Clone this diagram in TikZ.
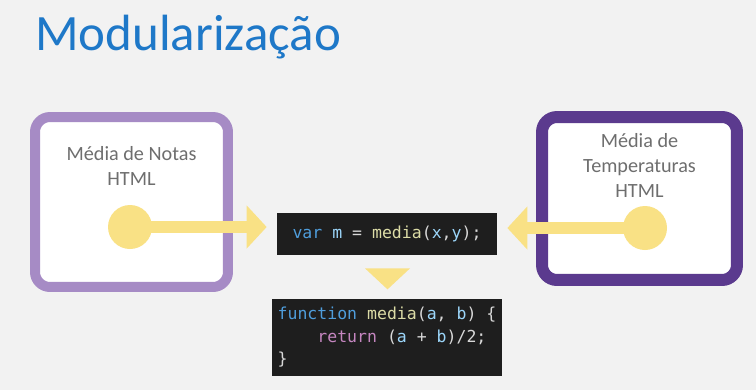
\documentclass[tikz,border=0pt]{standalone}
\usepackage{fontspec}
\setmainfont{Carlito}
\newfontfamily\codefont{DejaVu Sans Mono}[WordSpace={1,0,0}]
\usetikzlibrary{arrows.meta,calc,positioning}

\definecolor{bggray}{HTML}{F2F2F2}
\definecolor{titleblue}{HTML}{1E78C8}
\definecolor{textgray}{HTML}{6E6E6E}
\definecolor{lilac}{HTML}{A68BC5}
\definecolor{darkpurple}{HTML}{5B3A8E}
\definecolor{dotyellow}{HTML}{F9E185}
\definecolor{codebg}{HTML}{1E1E1E}
\definecolor{codewhite}{HTML}{D8D8D8}
\definecolor{kwblue}{HTML}{4F9DDB}
\definecolor{idblue}{HTML}{9CD6FA}
\definecolor{fnyellow}{HTML}{DCDCA6}
\definecolor{retpink}{HTML}{C586C0}

\newcommand{\codekw}[1]{\textcolor{kwblue}{#1}}
\newcommand{\codeid}[1]{\textcolor{idblue}{#1}}
\newcommand{\codefn}[1]{\textcolor{fnyellow}{#1}}
\newcommand{\coderet}[1]{\textcolor{retpink}{#1}}

\begin{document}
\begin{tikzpicture}[x=0.02cm, y=-0.02cm,
  htmlbox/.style = {draw, fill=white, rounded corners=0.3cm, minimum width=3.86cm},
  boxtext/.style = {text=textgray, align=center, inner sep=0pt,
                    font=\fontsize{11.5}{14.3}\selectfont},
  dot/.style     = {circle, fill=dotyellow, minimum size=0.88cm, inner sep=0pt},
  feed/.style    = {draw=dotyellow, line width=0.24cm, shorten >=0.2cm,
                    -{Triangle[length=0.4cm, width=0.84cm]}},
  codebox/.style = {fill=codebg, text=codewhite, inner sep=0.1cm,
                    font=\codefont\fontsize{9.4}{13}\selectfont}]
  \useasboundingbox (0,0) rectangle (756,390);
  \fill[bggray] (0,0) rectangle (756,390);

  \node[anchor=base west, text=titleblue, inner sep=0pt,
        font=\fontsize{29}{32}\selectfont] (title) at (35,50) {Modularização};

  \node[htmlbox, draw=lilac, line width=0.2cm, minimum height=3.4cm] (notas) at (131.5,202) {};
  \node[boxtext, below=0.68cm of notas.north] (notastext) {Média de Notas\\HTML};

  \node[htmlbox, draw=darkpurple, line width=0.24cm, minimum height=3.26cm, minimum width=3.9cm] (temp) at (639.5,198.5) {};
  \node[boxtext, below=0.44cm of temp.north] (temptext) {Média de\\Temperaturas\\HTML};

  \node[codebox, minimum width=4.4cm, minimum height=0.84cm] (call) at (387,234)
    {\codekw{var} \codeid{m} = \codefn{media}(\codeid{x},\codeid{y});};
  \node[codebox, below=0.86cm of call, align=left, minimum width=4.6cm, minimum height=1.54cm] (func)
    {\codekw{function}\ \codefn{media}(\codeid{a},\ \codeid{b})\ \{\\
     \phantom{func}\coderet{return}\ (\codeid{a}\ +\ \codeid{b})/2;\\
     \}};

  \node[dot] (notasdot) at (130,227) {};
  \node[dot] (tempdot) at (645,228) {};

  \draw[feed] (notasdot.center) -- (notasdot.center -| call.west);
  \draw[feed] (tempdot.center) -- (tempdot.center -| call.east);

  % seta para a funcao
  \fill[dotyellow] (call.south) ++(-22,13) -- ++(45,0) -- ++(-22.5,21) -- cycle;
\end{tikzpicture}
\end{document}
